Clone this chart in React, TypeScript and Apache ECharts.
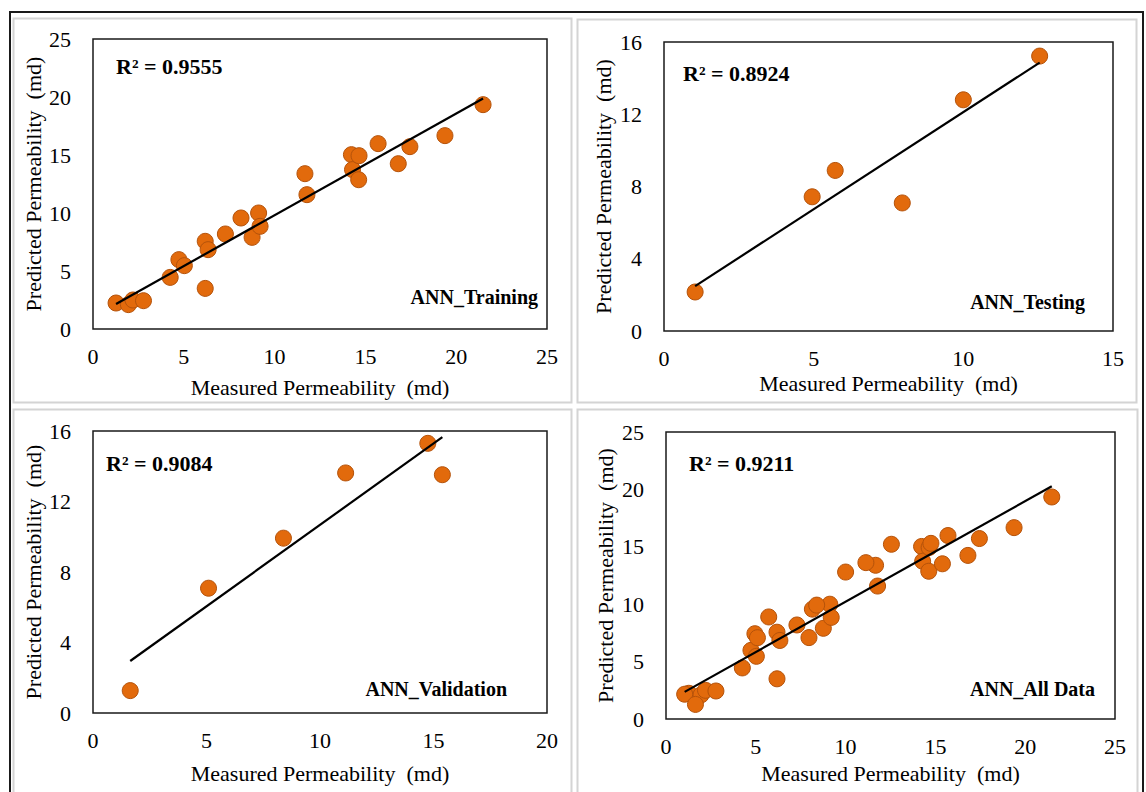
import React, { useEffect, useRef } from "react";
import * as echarts from "echarts";

// ---- Data ----
const trainX = [1.27, 1.95, 2.2, 2.78, 4.25, 4.73, 5.03, 6.18, 6.34, 6.18, 7.29, 8.15, 8.76, 9.12, 9.2, 11.67, 11.78, 14.23, 14.29, 14.65, 14.63, 15.7, 16.81, 17.45, 19.38, 21.48];
const trainY = [2.24, 2.1, 2.5, 2.44, 4.45, 5.98, 5.46, 7.56, 6.84, 3.5, 8.19, 9.57, 7.9, 10.0, 8.85, 13.39, 11.58, 15.03, 13.74, 14.94, 12.87, 15.98, 14.25, 15.72, 16.67, 19.34];

const testX = [1.04, 4.95, 5.72, 7.96, 10.0, 12.55];
const testY = [2.16, 7.43, 8.89, 7.09, 12.8, 15.22];

const validX = [1.64, 5.09, 8.39, 11.13, 14.75, 15.39];
const validY = [1.27, 7.08, 9.92, 13.62, 15.3, 13.52];

const allX = [...trainX, ...testX, ...validX];
const allY = [...trainY, ...testY, ...validY];

const panelNames = ["ANN_Training", "ANN_Testing", "ANN_Validation", "ANN_All Data"];
const r2Labels = ["R² = 0.9555", "R² = 0.8924", "R² = 0.9084", "R² = 0.9211"];
const xMaxes = [25, 15, 20, 25];
const xIntervals = [5, 5, 5, 5];
const yMaxes = [25, 16, 16, 25];
const yIntervals = [5, 4, 4, 5];
const xTitle = "Measured Permeability  (md)";
const yTitle = "Predicted Permeability  (md)";

// ---- Layout ----
const grids = [
  { left: 93, top: 39, width: 454, height: 290 },
  { left: 664, top: 42, width: 449, height: 289 },
  { left: 93, top: 431, width: 454, height: 282 },
  { left: 666, top: 432, width: 449, height: 287 },
];
const panelRects = [
  { x: 13.5, y: 18.5, w: 558, h: 384 },
  { x: 577.5, y: 19.5, w: 559, h: 383 },
  { x: 13.5, y: 409.5, w: 558, h: 390 },
  { x: 577.5, y: 409.5, w: 560, h: 390 },
];
const nameGapsX = [47, 41, 49, 43];
const nameGapsY = [49, 50, 49, 50];
const r2Pos = [
  { x: 116, y: 66 },
  { x: 683, y: 73 },
  { x: 106, y: 463 },
  { x: 689, y: 463 },
];
const namePos = [
  { x: 538, y: 297 },
  { x: 1085, y: 302 },
  { x: 507, y: 689 },
  { x: 1095, y: 689 },
];

const FONT = "'Liberation Serif', 'Times New Roman', serif";

function fit(xs: number[], ys: number[]) {
  const n = xs.length;
  const mx = xs.reduce((a, b) => a + b, 0) / n;
  const my = ys.reduce((a, b) => a + b, 0) / n;
  let sxy = 0;
  let sxx = 0;
  for (let i = 0; i < n; i++) {
    sxy += (xs[i] - mx) * (ys[i] - my);
    sxx += (xs[i] - mx) * (xs[i] - mx);
  }
  const b = sxy / sxx;
  const a = my - b * mx;
  const lo = Math.min(...xs);
  const hi = Math.max(...xs);
  return [
    [lo, a + b * lo],
    [hi, a + b * hi],
  ];
}

export default function App() {
  const ref = useRef<HTMLDivElement>(null);

  useEffect(() => {
    if (!ref.current) return;
    const chart = echarts.init(ref.current, null, { renderer: "svg" });
    const sets = [
      [trainX, trainY],
      [testX, testY],
      [validX, validY],
      [allX, allY],
    ];

    const series: any[] = [];
    sets.forEach(([xs, ys], i) => {
      series.push({
        type: "scatter",
        xAxisIndex: i,
        yAxisIndex: i,
        symbolSize: 16,
        itemStyle: { color: "#E26A0C", borderColor: "#B4520A", borderWidth: 1, opacity: 1 },
        data: xs.map((x, k) => [x, ys[k]]),
        z: 2,
      });
      series.push({
        type: "line",
        xAxisIndex: i,
        yAxisIndex: i,
        symbol: "none",
        lineStyle: { color: "#000", width: 2.2 },
        data: fit(xs, ys),
        z: 3,
      });
    });

    const labelStyle = { fontFamily: FONT, fontSize: 22, color: "#000" };

    const graphic: any[] = [
      {
        type: "rect",
        shape: { x: 10, y: 12, width: 1133, height: 800 },
        style: { fill: "none", stroke: "#1a1a1a", lineWidth: 2 },
      },
      ...panelRects.map((r) => ({
        type: "rect",
        shape: { x: r.x, y: r.y, width: r.w, height: r.h },
        style: { fill: "none", stroke: "#d4d4d4", lineWidth: 2 },
      })),
      ...r2Labels.map((t, i) => ({
        type: "text",
        x: r2Pos[i].x,
        y: r2Pos[i].y,
        style: {
          text: t,
          fontFamily: FONT,
          fontWeight: "bold",
          fontSize: 22,
          fill: "#000",
          verticalAlign: "middle",
          align: "left",
        },
        z: 10,
      })),
      ...panelNames.map((t, i) => ({
        type: "text",
        x: namePos[i].x,
        y: namePos[i].y,
        style: {
          text: t,
          fontFamily: FONT,
          fontWeight: "bold",
          fontSize: 20,
          fill: "#000",
          verticalAlign: "middle",
          align: "right",
        },
        z: 10,
      })),
    ];

    chart.setOption({
      animation: false,
      backgroundColor: "#fff",
      grid: grids.map((g) => ({
        ...g,
        show: true,
        borderColor: "#1a1a1a",
        borderWidth: 1.5,
        backgroundColor: "transparent",
      })),
      xAxis: grids.map((_, i) => ({
        type: "value",
        gridIndex: i,
        min: 0,
        max: xMaxes[i],
        interval: xIntervals[i],
        axisLine: { show: false },
        axisTick: { show: false },
        splitLine: { show: false },
        axisLabel: { ...labelStyle, margin: 16 },
        name: xTitle,
        nameLocation: "middle",
        nameGap: nameGapsX[i],
        nameTextStyle: { fontFamily: FONT, fontSize: 22, color: "#000" },
      })),
      yAxis: grids.map((_, i) => ({
        type: "value",
        gridIndex: i,
        min: 0,
        max: yMaxes[i],
        interval: yIntervals[i],
        axisLine: { show: false },
        axisTick: { show: false },
        splitLine: { show: false },
        axisLabel: { ...labelStyle, margin: 22 },
        name: yTitle,
        nameLocation: "middle",
        nameGap: nameGapsY[i],
        nameTextStyle: { fontFamily: FONT, fontSize: 22, color: "#000" },
      })),
      series,
      graphic,
    });
    return () => chart.dispose();
  }, []);

  return (
    <div
      ref={ref}
      style={{ position: "fixed", left: 0, top: 0, width: 1146, height: 792, background: "#fff" }}
    />
  );
}
